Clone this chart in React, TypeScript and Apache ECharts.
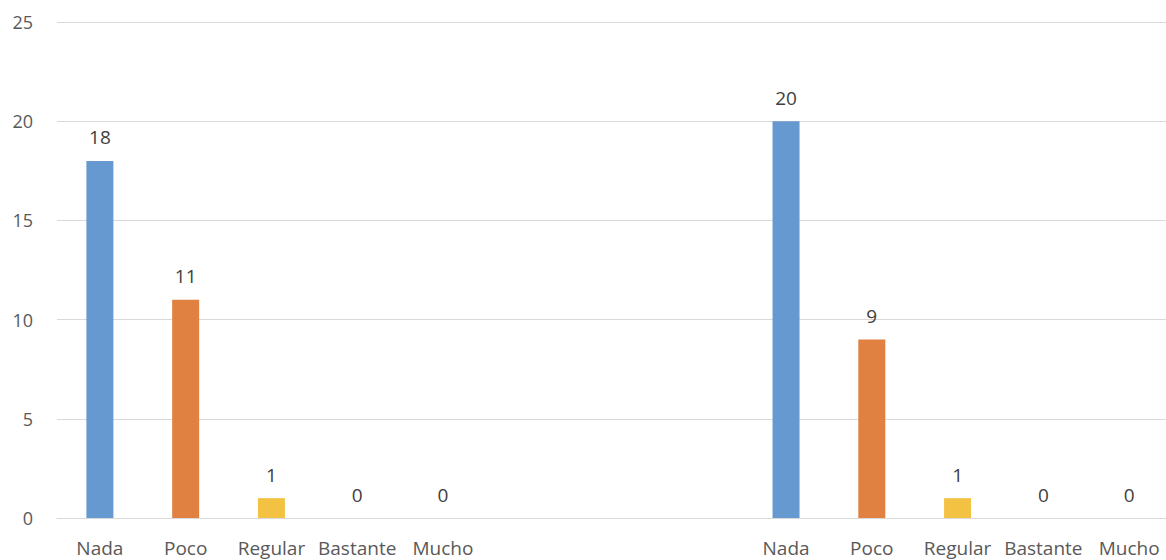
import React, { useEffect, useRef } from "react";
import * as echarts from "echarts";

const groupCategories = ["Nada", "Poco", "Regular", "Bastante", "Mucho"];
const group1Values = [18, 11, 1, 0, 0];
const group2Values = [20, 9, 1, 0, 0];
const gapCount = 3;
const categoryColors = ["#6699d0", "#e08142", "#f4c242", "#a5a5a5", "#4472c4"];
const yTicks = [0, 5, 10, 15, 20, 25];

export default function App() {
  const ref = useRef<HTMLDivElement>(null);
  useEffect(() => {
    if (!ref.current) return;
    const chart = echarts.init(ref.current, undefined, { renderer: "svg" });
    const gap = Array.from({ length: gapCount }, () => "");
    const categories = [...groupCategories, ...gap, ...groupCategories];
    const gapVals = Array.from({ length: gapCount }, () => null);
    const values = [...group1Values, ...gapVals, ...group2Values];
    const colors = [...categoryColors, ...gap.map(() => "#000"), ...categoryColors];
    const data = values.map((v, i) =>
      v === null ? null : { value: v, itemStyle: { color: colors[i] } }
    );
    chart.setOption({
      animation: false,
      grid: { left: 57, right: 0, top: 22, bottom: 42, containLabel: false },
      xAxis: {
        type: "category",
        data: categories,
        axisTick: { show: false },
        axisLine: { lineStyle: { color: "#d9d9d9", width: 1 } },
        axisLabel: {
          interval: 0,
          margin: 20,
          fontSize: 19,
          color: "#595959",
          fontFamily: "Open Sans",
        },
      },
      yAxis: {
        type: "value",
        min: yTicks[0],
        max: yTicks[yTicks.length - 1],
        interval: yTicks[1] - yTicks[0],
        axisLine: { show: false },
        axisTick: { show: false },
        splitLine: { lineStyle: { color: "#d9d9d9", width: 1 } },
        axisLabel: {
          margin: 24,
          fontSize: 18,
          color: "#595959",
          fontFamily: "Open Sans",
        },
      },
      series: [
        {
          type: "bar",
          data,
          barWidth: 27,
          label: {
            show: true,
            position: "top",
            distance: 14,
            fontSize: 19,
            color: "#404040",
            fontFamily: "Open Sans",
          },
        },
      ],
    });
    return () => chart.dispose();
  }, []);
  return (
    <div
      style={{ position: "fixed", left: 0, top: 0, width: 1166, height: 560, overflow: "hidden", background: "#fff" }}
    >
      <div ref={ref} style={{ width: 1172, height: 560 }} />
    </div>
  );
}
